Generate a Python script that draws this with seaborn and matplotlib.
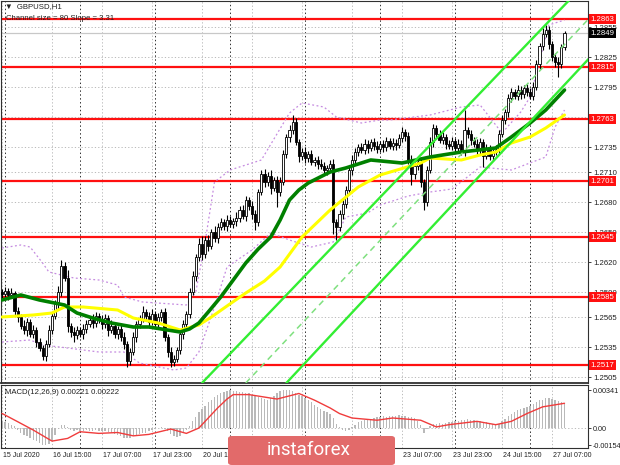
import numpy as np
import matplotlib
matplotlib.use("Agg")
import matplotlib.pyplot as plt
import matplotlib.transforms as mtransforms
from matplotlib.patches import FancyBboxPatch
import seaborn as sns

# --- GBPUSD H1 data, in pips above 1.2000 (e.g. 590 -> 1.2590) ---
close_pips = [
    588, 591, 587, 589, 571, 565, 556, 552, 560, 548, 552, 540, 534, 526,
    538, 552, 566, 578, 590, 616, 604, 556, 550, 547, 552, 548, 553, 558,
    562, 559, 566, 562, 558, 564, 552, 556, 548, 553, 545, 538, 521, 530,
    545, 558, 563, 570, 566, 560, 568, 558, 565, 570, 545, 530, 520, 523,
    532, 548, 558, 568, 590, 606, 625, 638, 628, 642, 636, 650, 644, 655,
    660, 656, 662, 658, 661, 664, 672, 666, 682, 676, 668, 660, 690, 708,
    700, 706, 694, 702, 690, 700, 728, 745, 752, 760, 740, 726, 730, 724,
    728, 720, 722, 718, 716, 712, 714, 718, 660, 655, 668, 678, 692, 712,
    722, 730, 735, 732, 738, 734, 740, 736, 733, 738, 735, 741, 736, 739,
    737, 744, 750, 746, 722, 708, 716, 720, 700, 680, 712, 740, 754, 748,
    742, 745, 738, 736, 741, 734, 738, 731, 752, 748, 742, 738, 732, 740,
    726, 734, 726, 730, 732, 748, 762, 770, 784, 790, 786, 792, 788, 794,
    790, 786, 795, 818, 836, 848, 852, 838, 825, 820, 818, 835, 849,
]
first_open_pips = 590
wick_hi = [
    3, 4, 3, 5, 2, 4, 3, 6, 4, 3, 5, 3, 4, 3, 4, 5, 3, 4, 6, 6,
    4, 8, 3, 5, 4, 3, 5, 4, 3, 6, 4, 3, 5, 4, 3, 6, 4, 3, 4, 5,
    3, 4, 5, 3, 4, 6, 3, 4, 5, 3, 4, 3, 4, 3, 5, 4, 3, 5, 4, 3,
    4, 5, 3, 6, 8, 4, 5, 3, 6, 4, 4, 3, 5, 4, 3, 6, 4, 5, 4, 3,
    5, 4, 3, 4, 5, 4, 6, 3, 4, 5, 4, 3, 5, 7, 4, 3, 4, 5, 3, 4,
    3, 4, 5, 4, 3, 4, 5, 3, 4, 5, 4, 3, 5, 4, 3, 4, 5, 4, 3, 4,
    5, 3, 4, 4, 3, 5, 4, 4, 5, 3, 4, 5, 4, 3, 4, 3, 4, 5, 4, 3,
    4, 5, 3, 4, 4, 3, 5, 4, 20, 3, 4, 3, 5, 4, 3, 4, 3, 4, 5, 4,
    5, 3, 4, 4, 3, 5, 4, 3, 4, 4, 5, 4, 3, 6, 5, 4, 3, 4, 5, 3, 2,
]
wick_lo = [
    4, 3, 5, 3, 4, 5, 3, 4, 6, 3, 4, 5, 3, 4, 5, 3, 4, 3, 5, 4,
    3, 6, 5, 7, 4, 3, 5, 4, 3, 5, 4, 3, 5, 4, 6, 3, 4, 5, 4, 5,
    6, 4, 3, 5, 4, 3, 4, 5, 3, 4, 5, 4, 4, 5, 5, 4, 3, 4, 5, 3,
    4, 3, 5, 4, 6, 4, 5, 3, 4, 5, 3, 4, 5, 3, 4, 5, 4, 3, 5, 4,
    5, 8, 4, 3, 5, 4, 6, 3, 15, 4, 3, 4, 5, 4, 3, 6, 4, 5, 4, 3,
    4, 5, 3, 4, 5, 4, 12, 13, 4, 5, 4, 3, 5, 4, 4, 3, 4, 5, 3, 4,
    4, 3, 5, 4, 3, 4, 5, 3, 4, 5, 4, 11, 5, 4, 5, 8, 4, 3, 5, 4,
    3, 4, 5, 3, 4, 4, 3, 4, 5, 4, 5, 3, 4, 4, 11, 3, 4, 5, 3, 4,
    3, 4, 5, 4, 3, 4, 5, 4, 4, 3, 4, 3, 5, 4, 3, 5, 4, 5, 13, 4, 3,
]

# moving averages (read at key bars)
green_ma_bar = [0, 6, 12, 20, 24, 29, 35, 42, 47, 53, 57, 60, 63, 66, 70, 74,
                78, 82, 86, 89, 92, 95, 98, 105, 110, 118, 128, 137, 147, 158,
                163, 169, 174, 180]
green_ma_pips = [582, 587, 582, 577, 569, 564, 559, 555, 555, 552, 550, 553,
                 559, 570, 585, 602, 619, 633, 645, 662, 682, 692, 699, 710,
                 714, 722, 719, 725, 730, 734, 745, 759, 772, 792]
yellow_ma_bar = [0, 10, 16, 20, 26, 37, 42, 50, 57, 63, 67, 72, 78, 84, 89, 96,
                 105, 114, 121, 134, 137, 147, 153, 158, 163, 169, 174, 180]
yellow_ma_pips = [565, 567, 569, 575, 575, 572, 564, 559, 552, 557, 565, 576,
                  589, 601, 615, 645, 672, 695, 707, 719, 724, 722, 727, 730,
                  739, 745, 754, 767]
band_up_bar = [0, 6, 9, 13, 15, 23, 31, 37, 39, 45, 59, 62, 65, 68, 73, 83, 92,
               96, 103, 107, 115, 121, 124, 137, 147, 153, 160, 166, 169, 175, 180]
band_up_pips = [634, 637, 635, 619, 610, 604, 602, 597, 585, 580, 577, 590, 640,
                700, 712, 722, 769, 779, 775, 765, 759, 762, 762, 767, 775, 777,
                749, 770, 785, 857, 862]
band_lo_bar = [0, 9, 13, 21, 31, 39, 44, 55, 59, 63, 68, 72, 80, 86, 92, 99, 106,
               110, 117, 121, 130, 137, 144, 153, 163, 174, 177, 180]
band_lo_pips = [540, 542, 537, 534, 530, 530, 519, 512, 514, 530, 575, 615, 632,
                649, 642, 635, 640, 665, 669, 677, 686, 690, 693, 715, 712, 725,
                755, 772]

# regression channel
chan_bar = [64, 188]
chan_upper_pips = [499, 903]
chan_lower_bar = [91, 188]
chan_lower_pips = [499, 824]
chan_mid_bar = [78, 188]
chan_mid_pips = [499, 864]

levels = [1.2863, 1.2815, 1.2763, 1.2701, 1.2645, 1.2585, 1.2517]
last_price = 1.2849
price_grid = [1.2855, 1.2825, 1.2795, 1.2765, 1.2735, 1.2710, 1.2680, 1.2650,
              1.2620, 1.2590, 1.2565, 1.2535, 1.2505]
# 1.2765 sits fully under the 1.2763 level box, so it gets no label
price_ticks = [1.2855, 1.2825, 1.2795, 1.2735, 1.2710, 1.2680, 1.2650,
               1.2620, 1.2590, 1.2565, 1.2535, 1.2505]

# MACD histogram (x1e-5) and signal line
macd_hist = [
    60, 55, 45, 30, 15, -20, -40, -60, -75, -90, -105, -120, -135, -148,
    -154, -140, -120, -60, -10, 25, 30, 10, -15, -25, -20, -25, -30, -20,
    -25, -30, -22, -28, -25, -30, -35, -40, -50, -60, -75, -85, -90, -85,
    -70, -60, -55, -45, -40, -25, -15, -5, 0, 5, -10, -30, -55, -75, -80,
    -70, -45, -15, 20, 60, 100, 140, 175, 200, 230, 255, 275, 295, 310, 325,
    335, 340, 335, 330, 320, 325, 315, 310, 300, 290, 280, 270, 260, 255,
    270, 290, 310, 330, 341, 340, 338, 330, 318, 300, 285, 270, 250, 230, 210,
    190, 170, 150, 140, 130, 90, 40, 5, -20, -25, -15, 10, 30, 50, 65, 75,
    80, 85, 90, 95, 100, 105, 100, 110, 105, 110, 115, 110, 105, 100, 95, 90,
    60, 30, -40, -10, 20, 35, 40, 45, 40, 45, 50, 55, 60, 65, 70, 75, 80, 75,
    70, 65, 60, 55, 50, 40, 35, 30, 40, 60, 85, 110, 130, 145, 160, 170, 180,
    190, 200, 215, 230, 250, 255, 268, 270, 262, 250, 240, 230, 221,
]
signal_bar = [0, 5, 10, 16, 21, 25, 31, 37, 42, 47, 54, 59, 63, 66, 69, 72, 74,
              79, 88, 95, 100, 105, 108, 112, 120, 125, 134, 139, 143, 152, 158,
              163, 168, 173, 180]
signal_val = [131, 57, -18, -117, -93, -33, -48, -40, -70, -57, -9, -48, 0, 90,
              180, 260, 300, 300, 260, 310, 250, 180, 130, 90, 70, 90, 70, 10,
              30, 60, 30, 60, 130, 190, 222]

# time axis: labels under the logo badge are not visible, so only ticks there
tick_bars = [0, 16, 32, 48, 64, 80, 96, 112, 128, 144, 160, 176]
time_labels = ["15 Jul 2020", "16 Jul 15:00", "17 Jul 07:00", "17 Jul 23:00",
               "20 Jul 15:00", "23 Jul 07:00", "23 Jul 23:00", "24 Jul 15:00",
               "27 Jul 07:00"]
label_bars = [0, 16, 32, 48, 64, 128, 144, 160, 176]
day_bars = [1, 25, 49, 73, 97, 121, 145, 169]


def px(p):
    return 1.2 + np.asarray(p, dtype=float) / 10000


sns.set_style("white")
plt.rcParams["font.family"] = ["Liberation Sans", "DejaVu Sans"]
plt.rcParams["patch.force_edgecolor"] = False

close = px(close_pips)
opn = np.r_[px(first_open_pips), close[:-1]]
high = np.maximum(opn, close) + np.asarray(wick_hi) / 10000
low = np.minimum(opn, close) - np.asarray(wick_lo) / 10000
bars = np.arange(len(close))

W, H = 620, 465
fig = plt.figure(figsize=(W / 100, H / 100), dpi=100)
fig.patch.set_facecolor("white")
ax = fig.add_axes([1 / W, 82 / H, 587 / W, 382 / H])
axm = fig.add_axes([1 / W, 17 / H, 587 / W, 63 / H])

xlim = (-0.32, 187.52)
grid_kw = dict(color="#b0b0b0", lw=0.6, ls=(0, (1.5, 2.5)), zorder=0)
sep_kw = dict(color="#303030", lw=0.7, ls=(0, (1.5, 2.5)), zorder=0)
TXT = 5.6

# --- main price panel ---
ax.set_xlim(*xlim)
ax.set_ylim(1.2499, 1.2881)
for t in price_grid:
    ax.axhline(t, **grid_kw)
for b in tick_bars:
    ax.axvline(b, **grid_kw)
for b in day_bars:
    ax.axvline(b, **sep_kw)

ax.axhline(last_price, color="#c8c8c8", lw=0.9, zorder=1)
for lv in levels:
    ax.axhline(lv, color="#ff1010", lw=1.6, zorder=2)

sns.lineplot(x=band_up_bar, y=px(band_up_pips), ax=ax, color="#c58be0",
             lw=0.9, ls=(0, (1.5, 2)), zorder=3)
sns.lineplot(x=band_lo_bar, y=px(band_lo_pips), ax=ax, color="#c58be0",
             lw=0.9, ls=(0, (1.5, 2)), zorder=3)

# candles
ax.vlines(bars, low, high, color="black", lw=0.8, zorder=4)
bull = close >= opn
body_lo = np.minimum(opn, close)
body_h = np.maximum(np.abs(close - opn), 0.00008)
ax.bar(bars[bull], body_h[bull], bottom=body_lo[bull], width=0.68,
       color="white", edgecolor="black", lw=0.6, zorder=5)
ax.bar(bars[~bull], body_h[~bull], bottom=body_lo[~bull], width=0.68,
       color="black", edgecolor="black", lw=0.6, zorder=5)

sns.lineplot(x=yellow_ma_bar, y=px(yellow_ma_pips), ax=ax, color="#ffff00",
             lw=2.2, zorder=6)
sns.lineplot(x=green_ma_bar, y=px(green_ma_pips), ax=ax, color="#008000",
             lw=2.6, zorder=7)

sns.lineplot(x=chan_bar, y=px(chan_upper_pips), ax=ax, color="#33ee33",
             lw=1.7, zorder=8)
sns.lineplot(x=chan_lower_bar, y=px(chan_lower_pips), ax=ax, color="#33ee33",
             lw=1.7, zorder=8)
sns.lineplot(x=chan_mid_bar, y=px(chan_mid_pips), ax=ax, color="#7fe07f",
             lw=1.1, ls=(0, (4, 3)), zorder=8)

ax.yaxis.tick_right()
ax.set_yticks(price_ticks)
ax.set_yticklabels([f"{t:.4f}" for t in price_ticks])
ax.tick_params(axis="y", length=2.5, width=0.6, pad=1.5, labelsize=TXT,
               colors="#202020")
ax.set_xticks([])
ax.set_xlabel("")
ax.set_ylabel("")
for s in ax.spines.values():
    s.set_color("#303030")
    s.set_linewidth(0.8)
ax.spines["bottom"].set_linewidth(1.3)

tr = mtransforms.blended_transform_factory(ax.transAxes, ax.transData)
for lv in levels:
    ax.text(1.0045, lv, f"{lv:.4f}", transform=tr, ha="left", va="center",
            fontsize=TXT, color="white", zorder=20, clip_on=False,
            bbox=dict(boxstyle="square,pad=0.22", fc="#ff1010", ec="none"))
ax.text(1.0045, last_price, f"{last_price:.4f}", transform=tr, ha="left",
        va="center", fontsize=TXT, color="white", zorder=21, clip_on=False,
        bbox=dict(boxstyle="square,pad=0.22", fc="black", ec="none"))

ax.text(4 / 587, 1 - 6 / 382, "\u25bc  GBPUSD,H1", transform=ax.transAxes,
        ha="left", va="center", fontsize=TXT, color="#202020", zorder=20)
ax.text(5 / 587, 1 - 17 / 382, "Channel size = 80 Slope = 3.31",
        transform=ax.transAxes, ha="left", va="center", fontsize=TXT,
        color="#202020", zorder=20)

# --- MACD panel ---
axm.set_xlim(*xlim)
axm.set_ylim(-0.00179, 0.00386)
for b in tick_bars:
    axm.axvline(b, **grid_kw)
for b in day_bars:
    axm.axvline(b, **sep_kw)
axm.axhline(0, **grid_kw)
axm.bar(bars, np.asarray(macd_hist) / 1e5, width=0.45, color="#b9b9b9",
        edgecolor="none", lw=0, zorder=2)
sns.lineplot(x=signal_bar, y=np.asarray(signal_val) / 1e5, ax=axm,
             color="#f03c3c", lw=1.0, zorder=3)
axm.yaxis.tick_right()
axm.set_yticks([0.00341, 0.0, -0.00154])
axm.set_yticklabels(["0.00341", "0.00", "-0.00154"])
axm.tick_params(axis="y", length=2.5, width=0.6, pad=1.0, labelsize=5.2,
                colors="#202020")
axm.set_xticks(tick_bars)
axm.set_xticklabels([])
axm.tick_params(axis="x", length=3, width=0.6, direction="out")
axm.set_xlabel("")
axm.set_ylabel("")
for s in axm.spines.values():
    s.set_color("#303030")
    s.set_linewidth(0.8)
axm.text(4 / 587, 1 - 7 / 63, "MACD(12,26,9) 0.00221 0.00222",
         transform=axm.transAxes, ha="left", va="center", fontsize=TXT,
         color="#202020")

trm = mtransforms.blended_transform_factory(axm.transData, axm.transAxes)
for b, lab in zip(label_bars, time_labels):
    axm.text(b + 0.4, -7 / 63, lab, transform=trm, ha="left", va="center",
             fontsize=5.0, color="#202020", clip_on=False)

# instaforex badge
badge = FancyBboxPatch((228 / W, 0 / H), 167 / W, 29 / H,
                       boxstyle="round,pad=0,rounding_size=0.006",
                       transform=fig.transFigure, fc="#e26a6a", ec="none",
                       zorder=30)
fig.patches.append(badge)
fig.text(309 / W, 15 / H, "instaforex", ha="center", va="center",
         fontsize=13.5, color="white", zorder=31,
         family=["Liberation Sans Narrow", "Roboto", "DejaVu Sans"])

fig.savefig("out.png", dpi=100)
